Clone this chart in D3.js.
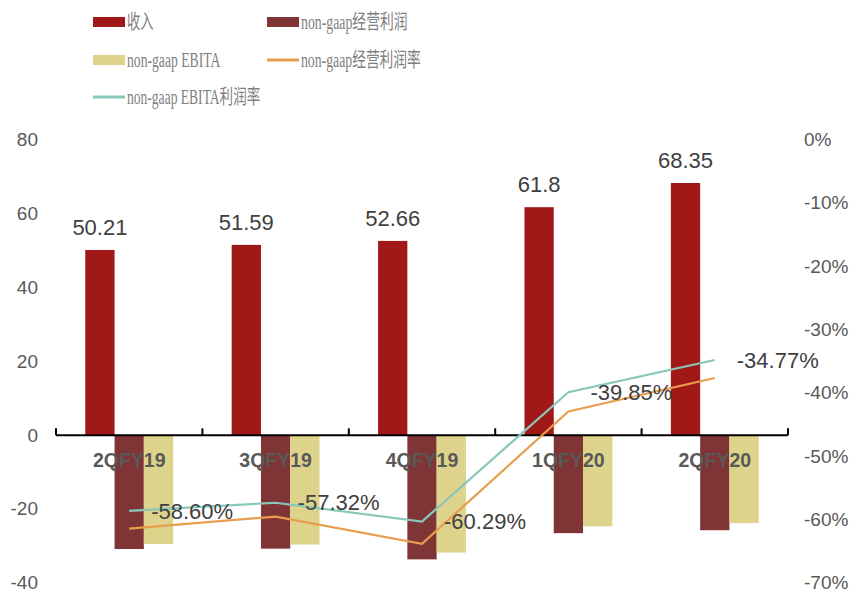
<!DOCTYPE html>
<html>
<head>
<meta charset="utf-8">
<script src="https://cdn.jsdelivr.net/npm/d3@7"></script>
<style>
  html, body { margin: 0; padding: 0; background: #fff; }
  svg { display: block; }
</style>
</head>
<body>
<svg id="chart" width="856" height="593"></svg>
<script>
// Quarterly figures
const categories = ["2QFY19", "3QFY19", "4QFY19", "1QFY20", "2QFY20"];
const revenue = [50.21, 51.59, 52.66, 61.8, 68.35];           // 收入
const opProfit = [-30.8, -30.7, -33.6, -26.5, -25.7];         // non-gaap经营利润
const ebita = [-29.42, -29.57, -31.75, -24.63, -23.77];       // non-gaap EBITA
const opMargin = [-61.4, -59.5, -63.8, -42.9, -37.6];         // non-gaap经营利润率 (%)
const ebitaMargin = [-58.60, -57.32, -60.29, -39.85, -34.77]; // non-gaap EBITA利润率 (%)
const leftTicks = [-40, -20, 0, 20, 40, 60, 80];
const rightTicks = [-70, -60, -50, -40, -30, -20, -10, 0];

const colors = {
  revenue: "#A01818",
  opProfit: "#7F3535",
  ebita: "#DDD38A",
  opMargin: "#E89D4F",
  ebitaMargin: "#88C8BA"
};

const svg = d3.select("#chart");
const plot = { left: 56, right: 788, top: 140, bottom: 583 };

const x = d3.scaleBand().domain(categories).range([plot.left, plot.right]).padding(0);
const y = d3.scaleLinear().domain([-40, 80]).range([plot.bottom, plot.top]);
const yR = d3.scaleLinear().domain([-70, 0]).range([plot.bottom, plot.top]);

const barW = x.bandwidth() * 0.2;
const barSeries = [
  { key: "revenue", values: revenue, offset: 0 },
  { key: "opProfit", values: opProfit, offset: 1 },
  { key: "ebita", values: ebita, offset: 2 }
];

// Bars
barSeries.forEach(s => {
  svg.append("g").selectAll("rect")
    .data(s.values)
    .join("rect")
    .attr("x", (d, i) => x(categories[i]) + barW + s.offset * barW)
    .attr("width", barW)
    .attr("y", d => Math.min(y(d), y(0)))
    .attr("height", d => Math.abs(y(d) - y(0)))
    .attr("fill", colors[s.key]);
});

// Left axis labels
svg.append("g").selectAll("text")
  .data(leftTicks)
  .join("text")
  .attr("x", 38)
  .attr("y", d => y(d) + 0.5)
  .attr("dy", "0.3em")
  .attr("text-anchor", "end")
  .attr("font-family", "Liberation Sans, Arial, sans-serif")
  .attr("font-size", 19)
  .attr("fill", "#595959")
  .text(d => d);

// Right axis labels
svg.append("g").selectAll("text")
  .data(rightTicks)
  .join("text")
  .attr("x", 804)
  .attr("y", d => yR(d) + 0.5)
  .attr("dy", "0.3em")
  .attr("text-anchor", "start")
  .attr("font-family", "Liberation Sans, Arial, sans-serif")
  .attr("font-size", 19)
  .attr("fill", "#595959")
  .text(d => d + "%");

// Category axis at zero with upward tick marks on boundaries
const xAxis = svg.append("g").attr("transform", `translate(0,${y(0)})`);
xAxis.append("line")
  .attr("x1", plot.left).attr("x2", plot.right)
  .attr("stroke", "#000").attr("stroke-width", 2);
const bounds = categories.map(c => x(c)).concat([plot.right]);
xAxis.selectAll("line.tick")
  .data(bounds)
  .join("line")
  .attr("class", "tick")
  .attr("x1", d => d).attr("x2", d => d)
  .attr("y1", 0).attr("y2", -7)
  .attr("stroke", "#000").attr("stroke-width", 2);

svg.append("g").selectAll("text")
  .data(categories)
  .join("text")
  .attr("x", d => x(d) + x.bandwidth() / 2)
  .attr("y", y(0) + 25)
  .attr("dy", "0.35em")
  .attr("text-anchor", "middle")
  .attr("font-family", "Liberation Sans, Arial, sans-serif")
  .attr("font-weight", "bold")
  .attr("font-size", 19.5)
  .attr("fill", "#595959")
  .text(d => d);

// Margin lines
const cx = c => x(c) + x.bandwidth() / 2;
const line = d3.line().x((d, i) => cx(categories[i])).y(d => yR(d));
[["opMargin", opMargin], ["ebitaMargin", ebitaMargin]].forEach(([k, vals]) => {
  svg.append("path")
    .datum(vals)
    .attr("d", line)
    .attr("fill", "none")
    .attr("stroke", colors[k])
    .attr("stroke-width", 2.2);
});

// Revenue value labels
svg.append("g").selectAll("text")
  .data(revenue)
  .join("text")
  .attr("x", (d, i) => x(categories[i]) + barW * 1.5)
  .attr("y", d => y(d) - 23)
  .attr("dy", "0.35em")
  .attr("text-anchor", "middle")
  .attr("font-family", "Liberation Sans, Arial, sans-serif")
  .attr("font-size", 22)
  .attr("fill", "#404040")
  .text(d => d);

// EBITA margin labels
svg.append("g").selectAll("text")
  .data(ebitaMargin)
  .join("text")
  .attr("x", (d, i) => cx(categories[i]) + 22)
  .attr("y", d => yR(d))
  .attr("dy", "0.35em")
  .attr("text-anchor", "start")
  .attr("font-family", "Liberation Sans, Arial, sans-serif")
  .attr("font-size", 22)
  .attr("fill", "#404040")
  .text(d => d.toFixed(2) + "%");

// Legend
const legendItems = [
  { label: "收入", key: "revenue", type: "rect", col: 0, row: 0 },
  { label: "non-gaap经营利润", key: "opProfit", type: "rect", col: 1, row: 0 },
  { label: "non-gaap EBITA", key: "ebita", type: "rect", col: 0, row: 1 },
  { label: "non-gaap经营利润率", key: "opMargin", type: "line", col: 1, row: 1 },
  { label: "non-gaap EBITA利润率", key: "ebitaMargin", type: "line", col: 0, row: 2 }
];
const colX = [93, 267];
const rowY = [22, 60, 97];
const textWidth = s => Array.from(s).reduce((w, ch) => w + (ch.charCodeAt(0) > 255 ? 13.3 : 6.67), 0);

const lg = svg.append("g");
legendItems.forEach(it => {
  const gx = colX[it.col], gy = rowY[it.row];
  if (it.type === "rect") {
    lg.append("rect").attr("x", gx).attr("y", gy - 5).attr("width", 32).attr("height", 10)
      .attr("fill", colors[it.key]);
  } else {
    lg.append("line").attr("x1", gx).attr("x2", gx + 32).attr("y1", gy).attr("y2", gy)
      .attr("stroke", colors[it.key]).attr("stroke-width", 3);
  }
  lg.append("text")
    .attr("x", gx + 34)
    .attr("y", gy)
    .attr("dy", "0.36em")
    .attr("font-family", "'Liberation Serif', 'Noto Sans CJK SC', serif")
    .attr("font-size", 20)
    .attr("fill", "#7F7F7F")
    .attr("textLength", textWidth(it.label))
    .attr("lengthAdjust", "spacingAndGlyphs")
    .text(it.label);
});
</script>
</body>
</html>
